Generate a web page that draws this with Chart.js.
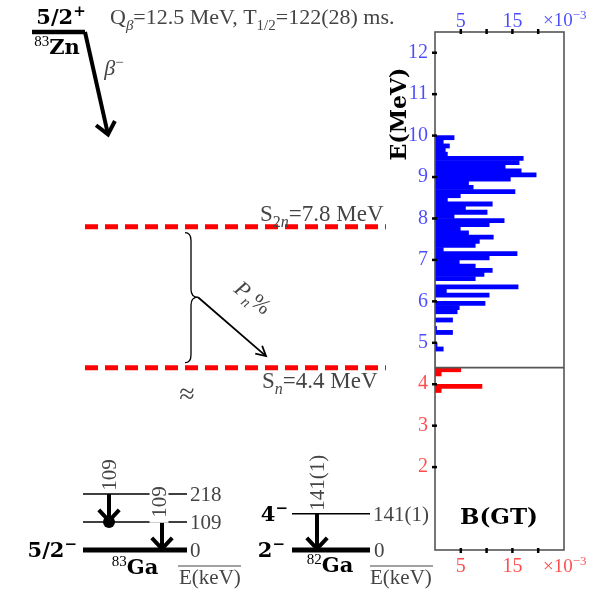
<!DOCTYPE html>
<html>
<head>
<meta charset="utf-8">
<script src="https://cdn.jsdelivr.net/npm/chart.js@4/dist/chart.umd.min.js"></script>
<style>
html, body { margin: 0; padding: 0; background: #fff; }
#wrap { position: relative; width: 601px; height: 592px; }
canvas { position: absolute; left: 0; top: 0; }
</style>
</head>
<body>
<div id="wrap">
  <canvas id="scheme" width="601" height="592"></canvas>
  <canvas id="bgt" width="601" height="592"></canvas>
</div>
<script>
const FONT = '"Liberation Serif", "Times New Roman", serif';
const BOLD_FONT = '"DejaVu Serif", serif';
const BLUE = '#0000ff', RED = '#ff0000';
const BLUE_TXT = 'rgba(0,0,255,0.7)', RED_TXT = 'rgba(255,0,0,0.7)';
const GRAY = '#444';

// B(GT) distribution, 0.1 MeV bins (bin centre in MeV, strength in 1e-3)
const eAboveSn = [9.95, 9.85, 9.75, 9.65, 9.55, 9.45, 9.35, 9.25, 9.15, 9.05,
                  8.95, 8.85, 8.75, 8.65, 8.55, 8.45, 8.35, 8.25, 8.15, 8.05,
                  7.95, 7.85, 7.75, 7.65, 7.55, 7.45, 7.35, 7.25, 7.15, 7.05,
                  6.95, 6.85, 6.75, 6.65, 6.55, 6.45, 6.35, 6.25, 6.15, 6.05,
                  5.95, 5.85, 5.75, 5.65, 5.55, 5.45, 5.35, 5.25, 5.15, 5.05,
                  4.95, 4.85, 4.75, 4.65, 4.55, 4.45];
const bgtAboveSn = [3.7, 1.6, 2.8, 2.0, 2.4, 17.1, 16.3, 13.6, 16.7, 19.6,
                    14.6, 6.5, 7.4, 15.5, 4.9, 2.4, 11.1, 5.9, 10.1, 3.7,
                    13.4, 10.5, 4.9, 6.5, 11.3, 8.6, 7.8, 1.6, 15.9, 10.5,
                    4.7, 7.8, 11.1, 9.5, 7.8, 0, 16.1, 2.2, 10.5, 0,
                    9.7, 4.7, 4.3, 0, 3.4, 0, 0.3, 3.4, 0, 0,
                    0.4, 1.6, 0, 0, 0, 0];
const eBelowSn = [4.35, 4.25, 4.15, 4.05, 3.95, 3.85];
const bgtBelowSn = [5.0, 1.2, 0, 0, 9.1, 1.2];

const eTicks = [2, 3, 4, 5, 6, 7, 8, 9, 10, 11, 12];
const bgtTicks = [5, 10, 15, 20];
const bgtTickLabels = ['5', '', '15', ''];

const Qbeta = 12.5, S2n = 7.8, Sn = 4.4;
const ga83Levels = [218, 109, 0];
const ga83Gammas = [[218, 109], [109, 0]];
const ga82Levels = [141, 0];
const ga82Gammas = [[141, 0]];
const kevScale = 0.0062;   // drawing units (MeV axis) per keV in the low-lying schemes

// ---------- text helper: parts = [{t, sub, sup, i, b}] ----------
function richText(ctx, parts, x, y, o) {
  o = o || {};
  const size = o.size || 20;
  const fontOf = p => {
    const bold = p.b !== undefined ? p.b : o.bold;
    const s = Math.round((p.sub || p.sup) ? size * 0.7 : size);
    return (p.i ? 'italic ' : '') + (bold ? 'bold ' : '') + s + 'px ' + (bold ? BOLD_FONT : FONT);
  };
  ctx.save();
  ctx.translate(x, y);
  if (o.rot) ctx.rotate(o.rot);
  let w = 0;
  const ws = parts.map(p => { ctx.font = fontOf(p); const m = ctx.measureText(p.t).width; w += m; return m; });
  let cx = o.align === 'right' ? -w : o.align === 'left' ? 0 : -w / 2;
  if (o.bg) { ctx.fillStyle = '#fff'; ctx.fillRect(cx - o.bg, -size * 0.45, w + 2 * o.bg, size * 0.9); }
  ctx.fillStyle = o.color || '#000';
  ctx.textAlign = 'left';
  ctx.textBaseline = 'alphabetic';
  const base = size * 0.34;
  parts.forEach((p, k) => {
    ctx.font = fontOf(p);
    const dy = p.sub ? size * 0.25 : p.sup ? -size * 0.38 : 0;
    ctx.fillText(p.t, cx, base + dy);
    cx += ws[k];
  });
  ctx.restore();
}

function seg(ctx, x1, y1, x2, y2) { ctx.beginPath(); ctx.moveTo(x1, y1); ctx.lineTo(x2, y2); ctx.stroke(); }

// ---------- decay scheme (left part) ----------
const lvl = (x1, x2, y, w) => ({ data: [{ x: x1, y: y }, { x: x2, y: y }], borderWidth: w, borderColor: '#000' });
const arrow = (x1, y1, x2, y2, w, head) => ({ data: [{ x: x1, y: y1 }, { x: x2, y: y2 }], borderWidth: w, borderColor: '#000', arrowHead: head });

const schemeSets = [];
schemeSets.push(lvl(3.2, 8.5, Qbeta, 4.5));
schemeSets.push(arrow(8.5, Qbeta, 10.8, 10.03, 4, { len: 15, ang: 0.7 }));
[S2n, Sn].forEach(e => schemeSets.push({ data: [{ x: 8.5, y: e }, { x: 38.6, y: e }], borderWidth: 5, borderColor: RED, borderDash: [13, 7] }));
schemeSets.push(arrow(19.8, (S2n + Sn) / 2, 26.6, 4.68, 1.8, { len: 11, ang: 0.5 }));
ga83Levels.forEach(k => schemeSets.push(lvl(8.3, 18.7, k * kevScale, k === 0 ? 5 : 1.5)));
ga83Gammas.forEach((g, n) => schemeSets.push(arrow(n === 0 ? 10.9 : 16.2, g[0] * kevScale, n === 0 ? 10.9 : 16.2, g[1] * kevScale + 0.03, 4, { len: 15, ang: 0.75 })));
schemeSets.push({ data: [{ x: 10.9, y: 109 * kevScale }], showLine: false, pointRadius: 6, pointBackgroundColor: '#000', pointBorderWidth: 0 });
ga82Levels.forEach(k => schemeSets.push(lvl(29.2, 37.0, k * kevScale, k === 0 ? 5 : 1.5)));
ga82Gammas.forEach(g => schemeSets.push(arrow(31.7, g[0] * kevScale, 31.7, g[1] * kevScale + 0.03, 4, { len: 15, ang: 0.75 })));
schemeSets.forEach(d => { if (d.showLine === undefined) d.showLine = true; if (d.pointRadius === undefined) d.pointRadius = 0; d.clip = false; });

const schemeDecor = {
  id: 'schemeDecor',
  afterDatasetsDraw(chart) {
    const ctx = chart.ctx, sx = chart.scales.x, sy = chart.scales.y;
    const X = v => sx.getPixelForValue(v), Y = v => sy.getPixelForValue(v);
    ctx.save();
    ctx.lineCap = 'butt';
    // arrow heads
    chart.data.datasets.forEach((d, i) => {
      if (!d.arrowHead) return;
      const pts = chart.getDatasetMeta(i).data;
      const a = pts[0], b = pts[1];
      const th = Math.atan2(b.y - a.y, b.x - a.x);
      ctx.strokeStyle = '#000'; ctx.lineWidth = d.borderWidth; ctx.lineJoin = 'miter';
      ctx.beginPath();
      ctx.moveTo(b.x - d.arrowHead.len * Math.cos(th - d.arrowHead.ang), b.y - d.arrowHead.len * Math.sin(th - d.arrowHead.ang));
      ctx.lineTo(b.x, b.y);
      ctx.lineTo(b.x - d.arrowHead.len * Math.cos(th + d.arrowHead.ang), b.y - d.arrowHead.len * Math.sin(th + d.arrowHead.ang));
      ctx.stroke();
    });
    // curly brace between the two thresholds
    const bx = X(19.1), bt = Y(S2n - 0.14), bb = Y(Sn + 0.12), bm = Y((S2n + Sn) / 2), r = 8;
    ctx.lineWidth = 1.3; ctx.strokeStyle = '#000';
    ctx.beginPath();
    ctx.moveTo(bx - 6, bt);
    ctx.quadraticCurveTo(bx, bt, bx, bt + r);
    ctx.lineTo(bx, bm - r);
    ctx.quadraticCurveTo(bx, bm, bx + 7, bm);
    ctx.quadraticCurveTo(bx, bm, bx, bm + r);
    ctx.lineTo(bx, bb - r);
    ctx.quadraticCurveTo(bx, bb, bx - 6, bb);
    ctx.stroke();
    // overlines of E(keV)
    ctx.lineWidth = 1; ctx.strokeStyle = GRAY;
    seg(ctx, X(17.8), Y(0) + 16, X(24.1), Y(0) + 16);
    seg(ctx, X(37.0), Y(0) + 16, X(43.3), Y(0) + 16);

    const T = (parts, x, e, dy, o) => richText(ctx, parts, X(x), Y(e) + dy, o);
    // 83Zn
    T([{ t: '5/2' }, { t: '+', sup: true }], 6.1, Qbeta, -15, { bold: true, size: 21 });
    T([{ t: '83', sup: true, b: false }, { t: 'Zn' }], 5.7, Qbeta, 15, { bold: true, size: 21 });
    T([{ t: 'Q' }, { t: 'β', sub: true, i: true }, { t: '=12.5 MeV, T' }, { t: '1/2', sub: true }, { t: '=122(28) ms.' }], 11.0, Qbeta, -15, { align: 'left', color: GRAY, size: 21.5 });
    T([{ t: 'β', i: true }, { t: '−', sup: true }], 11.4, Qbeta, 36, { color: GRAY, size: 22 });
    // thresholds
    T([{ t: 'S' }, { t: '2', sub: true }, { t: 'n', sub: true, i: true }, { t: '=7.8 MeV' }], 26.0, S2n, -13, { align: 'left', color: GRAY, size: 22.5 });
    T([{ t: 'S' }, { t: 'n', sub: true, i: true }, { t: '=4.4 MeV' }], 26.2, Sn, 13, { align: 'left', color: GRAY, size: 22.5 });
    T([{ t: '≈' }], 18.7, Sn, 26, { color: GRAY, size: 28 });
    T([{ t: 'P', i: true }, { t: 'n', sub: true, i: true }, { t: '%' }], 25.3, (S2n + Sn) / 2, 0, { color: GRAY, rot: 0.67, size: 22 });
    // 83Ga
    T([{ t: '5/2' }, { t: '−', sup: true }], 7.7, 0, 0, { bold: true, align: 'right', size: 21 });
    T([{ t: '83', sup: true, b: false }, { t: 'Ga' }], 13.5, 0, 17, { bold: true, size: 21 });
    ga83Levels.forEach(k => T([{ t: String(k) }], 19.0, k * kevScale, 0, { align: 'left', color: GRAY, size: 21 }));
    T([{ t: 'E(keV)' }], 17.9, 0, 27, { align: 'left', color: GRAY, size: 21 });
    T([{ t: '109' }], 10.9, 218 * kevScale, -19, { color: GRAY, rot: -Math.PI / 2, size: 21 });
    T([{ t: '109' }], 15.9, 218 * kevScale, 8, { color: GRAY, rot: -Math.PI / 2, bg: 5, size: 21 });
    // 82Ga
    T([{ t: '4' }, { t: '−', sup: true }], 28.8, 141 * kevScale, 0, { bold: true, align: 'right', size: 21 });
    T([{ t: '2' }, { t: '−', sup: true }], 28.5, 0, 0, { bold: true, align: 'right', size: 21 });
    T([{ t: '82', sup: true, b: false }, { t: 'Ga' }], 33.0, 0, 15, { bold: true, size: 21 });
    T([{ t: '141(1)' }], 37.3, 141 * kevScale, 0, { align: 'left', color: GRAY, size: 21 });
    T([{ t: '0' }], 37.4, 0, 0, { align: 'left', color: GRAY, size: 21 });
    T([{ t: 'E(keV)' }], 37.0, 0, 27, { align: 'left', color: GRAY, size: 21 });
    T([{ t: '141(1)' }], 31.7, 141 * kevScale, -31, { color: GRAY, rot: -Math.PI / 2, size: 21 });
    ctx.restore();
  }
};

new Chart(document.getElementById('scheme'), {
  type: 'scatter',
  data: { datasets: schemeSets },
  options: {
    responsive: false, animation: false,
    layout: { autoPadding: false, padding: { left: 0, right: 0, top: 32, bottom: 42 } },
    scales: {
      x: { type: 'linear', min: 0, max: 60.1, display: false },
      y: { type: 'linear', min: 0, max: Qbeta, display: false }
    },
    plugins: { legend: { display: false }, tooltip: { enabled: false } }
  },
  plugins: [schemeDecor]
});

// ---------- B(GT) panel (right part) ----------
const bgtFrame = {
  id: 'bgtFrame',
  afterDraw(chart) {
    const ctx = chart.ctx, a = chart.chartArea, sx = chart.scales.x, sy = chart.scales.y;
    ctx.save();
    ctx.strokeStyle = '#555'; ctx.lineWidth = 1.6;
    ctx.strokeRect(a.left, a.top, a.right - a.left, a.bottom - a.top);
    seg(ctx, a.left, sy.getPixelForValue(Sn), a.right, sy.getPixelForValue(Sn));
    ctx.strokeStyle = '#000'; ctx.lineWidth = 2.5;
    eTicks.forEach(v => { const p = sy.getPixelForValue(v); seg(ctx, a.left - 3, p, a.left + 2, p); });
    bgtTicks.forEach(v => {
      const p = sx.getPixelForValue(v);
      seg(ctx, p, a.bottom - 2, p, a.bottom + 3);
      seg(ctx, p, a.top - 3, p, a.top + 2);
    });
    const sc = [{ t: '×10' }, { t: '−3', sup: true }];
    richText(ctx, sc, 543, 20, { align: 'left', color: BLUE_TXT, size: 19 });
    richText(ctx, sc, 543, 566, { align: 'left', color: RED_TXT, size: 19 });
    richText(ctx, [{ t: 'E(MeV)' }], 399, 114, { bold: true, rot: -Math.PI / 2, size: 22 });
    richText(ctx, [{ t: 'B(GT)' }], 499, 516, { bold: true, size: 23 });
    ctx.restore();
  }
};

const tickFont = { family: FONT, size: 20 };
const fixTicks = vals => s => { s.ticks = vals.map(v => ({ value: v })); };

new Chart(document.getElementById('bgt'), {
  type: 'bar',
  data: {
    datasets: [
      { data: eAboveSn.map((e, i) => ({ x: bgtAboveSn[i], y: e })), backgroundColor: BLUE },
      { data: eBelowSn.map((e, i) => ({ x: bgtBelowSn[i], y: e })), backgroundColor: RED }
    ]
  },
  options: {
    responsive: false, animation: false,
    indexAxis: 'y',
    datasets: { bar: { grouped: false, barPercentage: 1, categoryPercentage: 1, borderWidth: 0 } },
    layout: { autoPadding: false, padding: { left: 400, right: 37, top: 0, bottom: 0 } },
    scales: {
      y: {
        type: 'linear', position: 'left', min: 0, max: Qbeta, offset: false,
        afterBuildTicks: fixTicks(eTicks),
        afterFit: s => { s.width = 35; },
        grid: { display: false, tickLength: 0 }, border: { display: false },
        ticks: { font: tickFont, padding: 7, color: c => c.tick && c.tick.value >= 5 ? BLUE_TXT : RED_TXT }
      },
      x: {
        type: 'linear', position: 'bottom', min: 0, max: 25, offset: false,
        afterBuildTicks: fixTicks(bgtTicks),
        afterFit: s => { s.height = 42; },
        grid: { display: false, tickLength: 0 }, border: { display: false },
        ticks: { font: tickFont, padding: 5, maxRotation: 0, color: RED_TXT, callback: (v, i) => bgtTickLabels[i] }
      },
      x2: {
        type: 'linear', position: 'top', min: 0, max: 25, offset: false,
        afterBuildTicks: fixTicks(bgtTicks),
        afterFit: s => { s.height = 32; },
        grid: { display: false, tickLength: 0 }, border: { display: false },
        ticks: { font: tickFont, padding: -2, maxRotation: 0, color: BLUE_TXT, callback: (v, i) => bgtTickLabels[i] }
      }
    },
    plugins: { legend: { display: false }, tooltip: { enabled: false } }
  },
  plugins: [bgtFrame]
});
</script>
</body>
</html>
